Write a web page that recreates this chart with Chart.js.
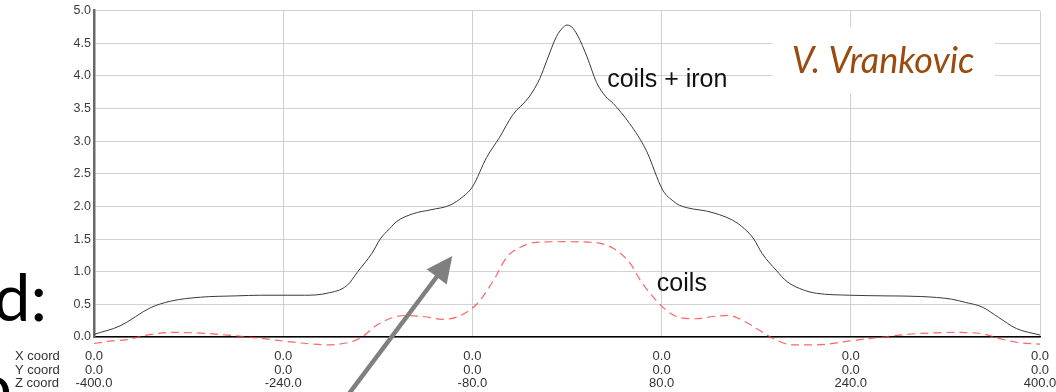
<!DOCTYPE html>
<html>
<head>
<meta charset="utf-8">
<script src="https://cdn.jsdelivr.net/npm/chart.js@4.4.0/dist/chart.umd.min.js"></script>
<style>
  html, body { margin: 0; padding: 0; background: #fff; }
  #wrap { position: relative; width: 1056px; height: 392px; overflow: hidden; }
</style>
</head>
<body>
<div id="wrap"><canvas id="fieldChart" width="1056" height="392"></canvas></div>
<script>
// Field along the Z axis: coils with iron yoke
const zIron = [-400, -378, -352, -335, -310, -280, -259, -222, -203, -186, -177, -165, -158, -150, -144,
  -130, -115, -99, -88, -80, -68, -57, -46, -32, -23, -17, -9, -3, 0, 4, 9, 17, 25, 33, 39, 53, 67,
  81, 90, 95, 107, 118, 140, 150, 158, 165, 177, 186, 200, 211, 239, 270, 300, 325, 337, 351, 365, 380, 400];
const bIron = [0.04, 0.17, 0.45, 0.55, 0.61, 0.63, 0.64, 0.64, 0.67, 0.79, 1.00, 1.28, 1.50, 1.66, 1.77,
  1.89, 1.95, 2.02, 2.15, 2.30, 2.75, 3.06, 3.40, 3.68, 3.96, 4.24, 4.60, 4.75, 4.78, 4.75, 4.62, 4.29, 3.90, 3.68, 3.58, 3.27, 2.86,
  2.25, 2.08, 2.02, 1.96, 1.93, 1.79, 1.66, 1.50, 1.28, 1.02, 0.85, 0.72, 0.67, 0.64, 0.63, 0.62, 0.58, 0.53, 0.46, 0.30, 0.13, 0.03];

// Field along the Z axis: coils only
const zCoils = [-400, -385, -372, -358, -333, -310, -282, -259, -231, -203, -189, -175, -161, -147, -136,
  -120, -105, -90, -76, -62, -51, -40, -26, -3, 22, 39, 53, 62, 73, 84, 95, 109, 122, 137, 149, 163,
  174, 191, 211, 239, 267, 295, 329, 351, 365, 380, 400];
const bCoils = [-0.10, -0.06, -0.04, 0.02, 0.07, 0.06, 0.02, -0.02, -0.08, -0.12, -0.10, -0.02, 0.18, 0.30, 0.33,
  0.31, 0.27, 0.33, 0.51, 0.87, 1.22, 1.37, 1.45, 1.46, 1.45, 1.36, 1.14, 0.87, 0.61, 0.41, 0.30, 0.28, 0.31, 0.33, 0.25, 0.10,
  -0.02, -0.12, -0.12, -0.06, 0.00, 0.05, 0.07, 0.05, -0.02, -0.08, -0.11];

// Axis ticks and the three coordinate rows under the plot
const zTicks = [-400, -240, -80, 80, 240, 400];
const xRowLabels = ['0.0', '0.0', '0.0', '0.0', '0.0', '0.0'];
const yRowLabels = ['0.0', '0.0', '0.0', '0.0', '0.0', '0.0'];
const zRowLabels = ['-400.0', '-240.0', '-80.0', '80.0', '240.0', '400.0'];
const rowNames = ['X coord', 'Y coord', 'Z coord'];
const bTicks = [0, 0.5, 1, 1.5, 2, 2.5, 3, 3.5, 4, 4.5, 5];
const bTickLabels = ['0.0', '0.5', '1.0', '1.5', '2.0', '2.5', '3.0', '3.5', '4.0', '4.5', '5.0'];

const SANS = '"Liberation Sans", Arial, sans-serif';
const X_PAD = 13;
const X_FONT = { family: SANS, size: 13, lineHeight: 1.04 };

const toPoints = (xs, ys) => xs.map((x, i) => ({ x, y: ys[i] }));

const annotations = {
  id: 'annotations',
  beforeDatasetsDraw(chart) {
    const ctx = chart.ctx;
    // author tag box hides the grid behind it
    ctx.save();
    ctx.fillStyle = '#fff';
    ctx.fillRect(772, 27, 223, 67);
    ctx.fillStyle = '#9a4b0d';
    ctx.font = 'italic 36px Lato, "Open Sans", sans-serif';
    ctx.textAlign = 'center';
    ctx.textBaseline = 'alphabetic';
    ctx.fillText('V. Vrankovic', 883, 73);
    ctx.restore();
  },
  afterDraw(chart) {
    const ctx = chart.ctx;
    const xs = chart.scales.x, ys = chart.scales.y;
    ctx.save();

    // curve labels
    ctx.fillStyle = '#111';
    ctx.font = '25px ' + SANS;
    ctx.textAlign = 'left';
    ctx.textBaseline = 'alphabetic';
    ctx.fillText('coils + iron', xs.getPixelForValue(34), ys.getPixelForValue(3.83));
    ctx.fillText('coils', xs.getPixelForValue(76), ys.getPixelForValue(0.705));

    // row names of the coordinate table
    ctx.fillStyle = '#333';
    ctx.font = X_FONT.size + 'px ' + SANS;
    ctx.textBaseline = 'middle';
    const lh = X_FONT.size * X_FONT.lineHeight;
    rowNames.forEach((name, i) => {
      ctx.fillText(name, 15, chart.chartArea.bottom + X_PAD + lh * (i + 0.5));
    });

    // slide text around the plot
    ctx.fillStyle = '#000';
    ctx.font = '66px Lato, "Open Sans", sans-serif';
    ctx.textBaseline = 'alphabetic';
    ctx.textAlign = 'right';
    ctx.fillText('d:', 47, 321);
    ctx.fillText('o', 12, 410);

    // pointer arrow
    const x0 = xs.getPixelForValue(-184), y0 = ys.getPixelForValue(-0.86);
    const x1 = xs.getPixelForValue(-97), y1 = ys.getPixelForValue(1.24);
    const ang = Math.atan2(y1 - y0, x1 - x0);
    const headLen = 26, headHalf = 12.5;
    const bx = x1 - headLen * Math.cos(ang), by = y1 - headLen * Math.sin(ang);
    ctx.strokeStyle = '#7f7f7f';
    ctx.fillStyle = '#7f7f7f';
    ctx.lineWidth = 4.5;
    ctx.beginPath();
    ctx.moveTo(x0, y0);
    ctx.lineTo(bx + 2 * Math.cos(ang), by + 2 * Math.sin(ang));
    ctx.stroke();
    ctx.beginPath();
    ctx.moveTo(x1, y1);
    ctx.lineTo(bx + headHalf * Math.sin(ang), by - headHalf * Math.cos(ang));
    ctx.lineTo(bx - headHalf * Math.sin(ang), by + headHalf * Math.cos(ang));
    ctx.closePath();
    ctx.fill();
    ctx.restore();
  }
};

new Chart(document.getElementById('fieldChart'), {
  type: 'line',
  data: {
    datasets: [
      {
        label: 'coils + iron',
        data: toPoints(zIron, bIron),
        borderColor: '#3a3a3a',
        borderWidth: 1,
        pointRadius: 0,
        cubicInterpolationMode: 'monotone',
        fill: false,
        clip: false
      },
      {
        label: 'coils',
        data: toPoints(zCoils, bCoils),
        borderColor: 'rgba(255, 50, 50, 0.75)',
        borderWidth: 1.2,
        borderDash: [8, 5],
        pointRadius: 0,
        cubicInterpolationMode: 'monotone',
        fill: false,
        clip: false
      }
    ]
  },
  options: {
    responsive: false,
    devicePixelRatio: 1,
    animation: false,
    layout: { padding: { top: 10.7, right: 16, left: 0, bottom: 0 } },
    plugins: { legend: { display: false }, tooltip: { enabled: false } },
    scales: {
      x: {
        type: 'linear',
        min: -400,
        max: 400,
        afterBuildTicks: s => { s.ticks = zTicks.map(v => ({ value: v })); },
        afterFit: s => { s.height = 55; s.paddingLeft = 0; s.paddingRight = 0; },
        ticks: {
          autoSkip: false,
          maxRotation: 0,
          padding: X_PAD,
          color: '#333',
          font: X_FONT,
          callback: (v, i) => [xRowLabels[i], yRowLabels[i], zRowLabels[i]]
        },
        grid: { color: '#cfcfcf', lineWidth: 1, drawTicks: false },
        border: { color: '#000', width: 1.5 }
      },
      y: {
        min: 0,
        max: 5,
        afterBuildTicks: s => { s.ticks = bTicks.map(v => ({ value: v })); },
        afterFit: s => { s.width = 94; s.paddingTop = 0; s.paddingBottom = 0; },
        ticks: {
          padding: 3,
          color: '#3c3c3c',
          font: { family: SANS, size: 12.5 },
          callback: (v, i) => bTickLabels[i]
        },
        grid: { color: '#d2d2d2', lineWidth: 1, drawTicks: false },
        border: { color: '#6a6a6a', width: 2.5 }
      }
    }
  },
  plugins: [annotations]
});
</script>
</body>
</html>
